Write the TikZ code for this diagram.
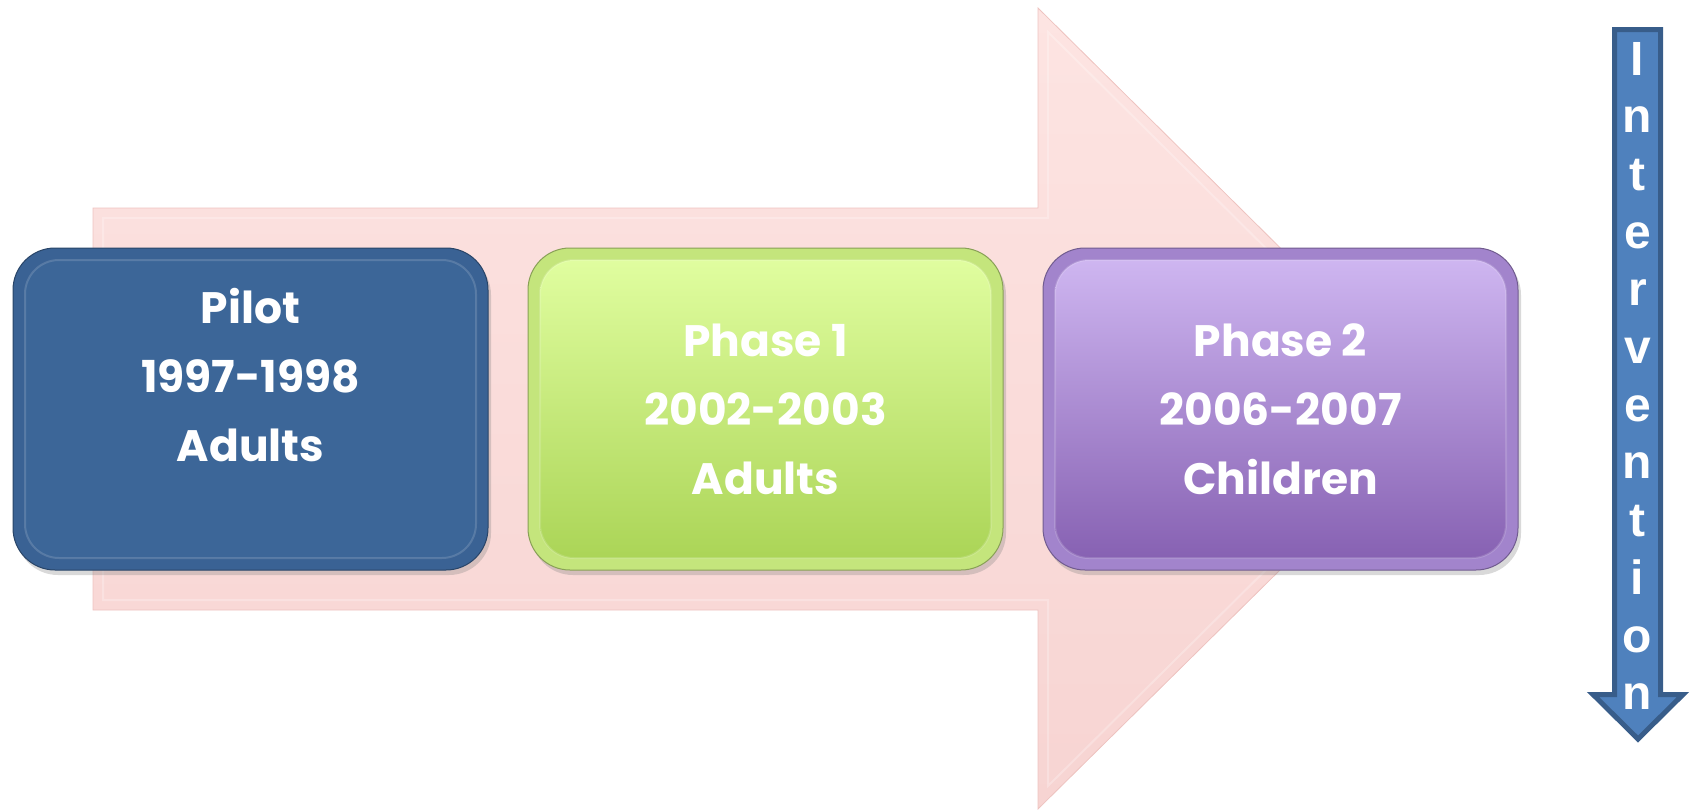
\documentclass[tikz,border=0pt]{standalone}
\usepackage{fontspec}
\setmainfont{Poppins}
\newfontfamily\letterfont{Liberation Sans}
\usetikzlibrary{shadows}

\definecolor{arrowtop}{HTML}{FDE4E2}
\definecolor{arrowbot}{HTML}{F7D4D2}
\definecolor{arrowedge}{HTML}{EEC3C0}
\definecolor{pilotrim}{HTML}{3A6294}
\definecolor{pilotfill}{HTML}{3C6698}
\definecolor{greenrim}{HTML}{C4E57C}
\definecolor{greentop}{HTML}{E2FFA2}
\definecolor{greenbot}{HTML}{A9D354}
\definecolor{purplerim}{HTML}{A284CC}
\definecolor{purpletop}{HTML}{D1B9F3}
\definecolor{purplebot}{HTML}{845EB0}
\definecolor{intfill}{HTML}{4F81BD}
\definecolor{intedge}{HTML}{385D8A}

\newcommand{\phasefont}{\bfseries\fontsize{22}{34.5}\selectfont}
\newcommand{\intfont}{\letterfont\bfseries\fontsize{24}{28}\selectfont}

\tikzset{
  phasebox/.style n args={3}{
    rounded corners=21pt, minimum width=237.5pt, minimum height=161pt,
    inner sep=0pt, fill=#1, draw=#1!70!black, line width=0.5pt,
    drop shadow={opacity=0.3, shadow xshift=1.5pt, shadow yshift=-2.5pt},
    path picture={
      \shade[top color=#2, bottom color=#3, rounded corners=17pt]
        ([shift={(6pt,-6pt)}]path picture bounding box.north west) rectangle
        ([shift={(-6pt,6pt)}]path picture bounding box.south east);
      \draw[white, opacity=0.15, line width=1pt, rounded corners=17pt]
        ([shift={(6pt,-6pt)}]path picture bounding box.north west) rectangle
        ([shift={(-6pt,6pt)}]path picture bounding box.south east);
    },
    text=white, font=\phasefont, align=center},
  intletter/.style={text=white, font=\intfont, inner sep=0pt, anchor=base}
}

\begin{document}
\begin{tikzpicture}[x=0.5pt, y=-0.5pt]
  \useasboundingbox (0,0) rectangle (1692,809);

  % big pink arrow behind the phases
  \shade[top color=arrowtop, bottom color=arrowbot, draw=arrowedge, line width=0.4pt]
    (93,208) -- (1038,208) -- (1038,8) -- (1443,409) -- (1038,809)
    -- (1038,610) -- (93,610) -- cycle;
  \draw[white, opacity=0.25, line width=1pt]
    (103,218) -- (1048,218) -- (1048,32) -- (1428,409) -- (1048,786)
    -- (1048,600) -- (103,600) -- cycle;

  % phases
  \node[phasebox={pilotrim}{pilotfill}{pilotfill}] (pilot) at (250.5,409)
    {Pilot\\1997-1998\\Adults\\\mbox{}};
  \node[phasebox={greenrim}{greentop}{greenbot}] (phase1) at (765.5,409)
    {Phase 1\\2002-2003\\Adults};
  \node[phasebox={purplerim}{purpletop}{purplebot}] (phase2) at (1280.5,409)
    {Phase 2\\2006-2007\\Children};

  % intervention arrow
  \draw[fill=intfill, draw=intedge, line width=2.5pt, line join=miter]
    (1614.5,29.5) -- (1660.5,29.5) -- (1660.5,694.5) -- (1683,694.5)
    -- (1638,739) -- (1593,694.5) -- (1614.5,694.5) -- cycle;
  \foreach \ch [count=\k from 0] in {I,n,t,e,r,v,e,n,t,i,o,n}
    \node[intletter] (int\k) at (1637.5,75+57.7*\k) {\ch};
\end{tikzpicture}
\end{document}
